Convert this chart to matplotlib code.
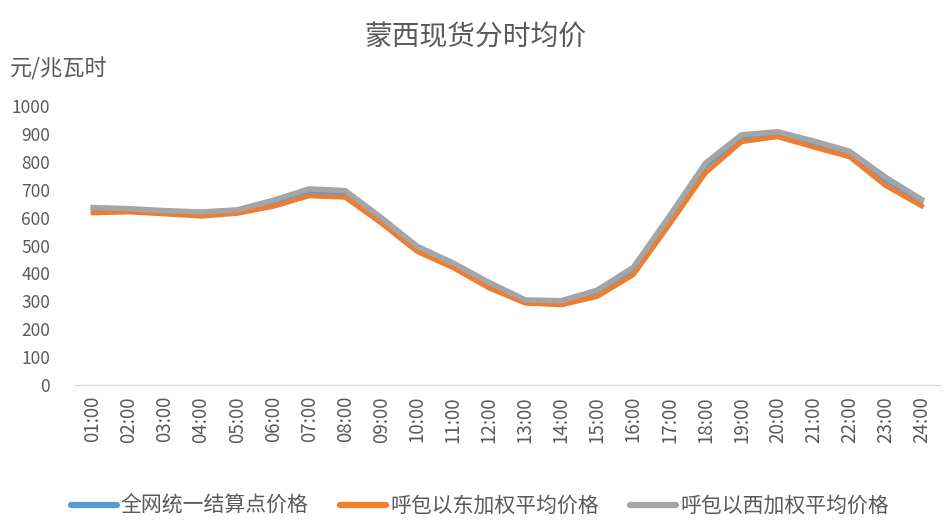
import numpy as np
import matplotlib
matplotlib.use('Agg')
import matplotlib.pyplot as plt

plt.rcParams['font.family'] = ['Noto Sans CJK SC', 'DejaVu Sans']

# Datos
horas = ['%02d:00' % h for h in range(1, 25)]
quanwang = [628, 626, 620, 613, 622, 652, 692, 686, 590, 488, 428, 357, 300, 295, 330, 410, 592, 780, 886, 900, 864, 828, 732, 654]
hudong = [617, 620, 613, 605, 615, 640, 678, 673, 580, 478, 420, 347, 293, 287, 317, 395, 575, 760, 872, 890, 853, 818, 715, 642]
huxi = [636, 632, 625, 620, 628, 662, 703, 697, 600, 497, 437, 367, 305, 302, 340, 422, 605, 795, 897, 908, 875, 838, 745, 665]
series_names = ['全网统一结算点价格', '呼包以东加权平均价格', '呼包以西加权平均价格']

txt = '#595959'
fig = plt.figure(figsize=(9.5, 5.28), dpi=100)
ax = fig.add_axes([0.079, 0.271, 0.91, 0.528])

x = np.arange(len(horas))
ax.plot(x, quanwang, color='#5B9BD5', lw=2.5, label=series_names[0], solid_joinstyle='round')
ax.plot(x, hudong, color='#ED7D31', lw=3.5, label=series_names[1], solid_joinstyle='round')
ax.plot(x, huxi, color='#A5A5A5', lw=4.0, label=series_names[2], solid_joinstyle='round')

ax.set_xlim(-0.5, len(horas) - 0.5)
ax.set_ylim(0, 1000)
ax.set_yticks(range(0, 1001, 100))
ax.set_xticks(x)
ax.set_xticklabels(horas, rotation=90)
ax.tick_params(axis='both', length=0, labelsize=12.5, colors=txt)
ax.tick_params(axis='x', labelsize=13.5, pad=8)
ax.tick_params(axis='y', pad=18)
for s in ['top', 'right', 'left']:
    ax.spines[s].set_visible(False)
ax.spines['bottom'].set_color('#D9D9D9')
ax.spines['bottom'].set_linewidth(1)

fig.text(0.5, 0.928, '蒙西现货分时均价', ha='center', va='center', fontsize=20, color=txt)
fig.text(0.01, 0.87, '元/兆瓦时', ha='left', va='center', fontsize=16, color=txt)

leg = fig.legend(loc='center', bbox_to_anchor=(0.505, 0.042), ncol=3, frameon=False,
                 fontsize=15, labelcolor=txt, handlelength=2.2, handletextpad=0.2,
                 columnspacing=1.5)
for h in leg.get_lines():
    h.set_linewidth(4.5)
    h.set_solid_capstyle('round')

fig.savefig('out.png', dpi=100)
